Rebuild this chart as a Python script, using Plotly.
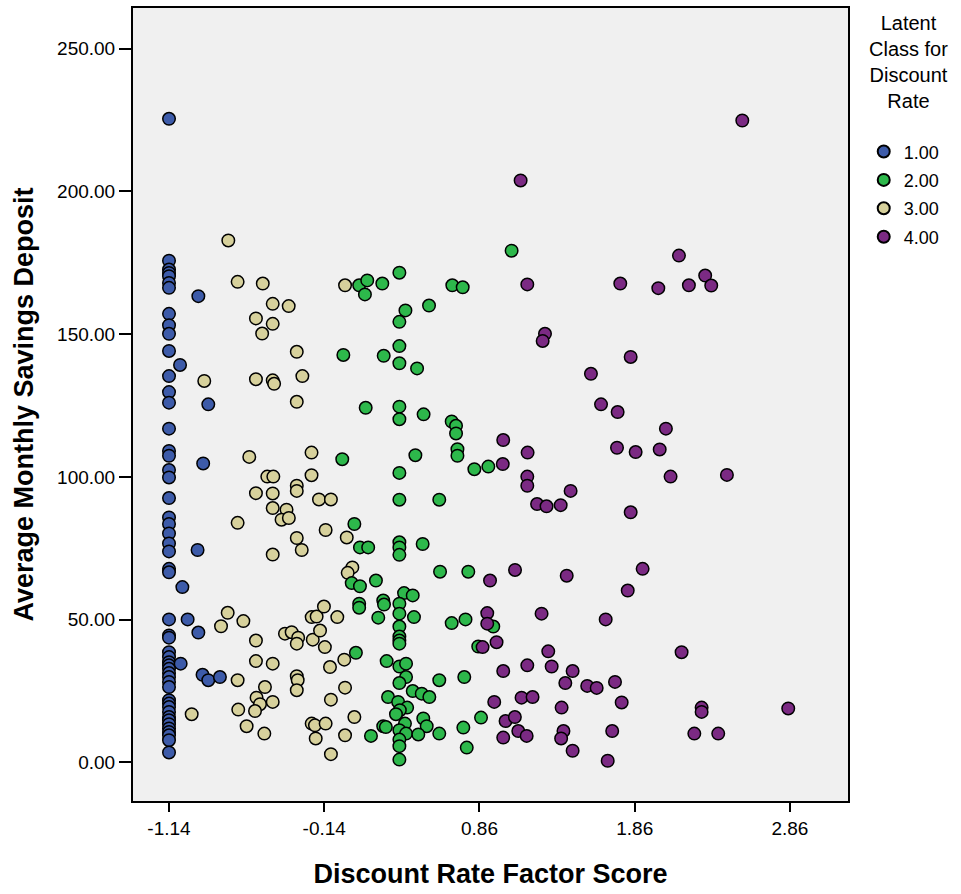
import plotly.graph_objects as go

# ---------------- data ----------------
class1_x = [-1.14] * 51 + [-0.951, -1.069, -0.887, -0.920, -0.956, -1.054, -1.020, -0.951, -1.065, -0.924, -0.887, -0.812]
class1_y = [225.4, 175.7, 172.6, 171.4, 170.3, 167.9, 166.2, 157.1, 153.1, 150.1, 144.1, 135.3, 129.7, 126.0,
            116.9, 109.1, 107.4, 102.4, 99.8, 92.6, 85.8, 83.5, 80.2, 76.7, 73.9, 67.8, 66.6, 50.1, 44.5, 43.7,
            38.6, 36.9, 35.1, 34.0, 32.8, 31.3, 29.9, 28.2, 26.4, 21.8, 20.6, 19.4, 17.7, 15.9, 14.8, 13.4, 11.9,
            10.7, 9.5, 7.8, 3.5,
            163.3, 139.2, 125.4, 104.7, 74.4, 61.4, 50.1, 45.5, 34.6, 30.7, 28.8, 29.9]

class2_x = [1.067, 0.344, 0.085, 0.137, 0.122, 0.234, 0.685, 0.752, 0.383, 0.344, 0.535, -0.017, 0.243, 0.344,
            0.344, 0.458, 0.127, 0.344, 0.344, 0.500, 0.681, 0.709, 0.709, 0.718, 0.718, 0.827, 0.917, -0.024,
            0.447, 0.344, 0.344, 0.601, 0.054, 0.090, 0.143, 0.037, 0.090, 0.193, 0.085, 0.085, 0.208, 0.064,
            0.161, 0.344, 0.344, 0.344, 0.494, 0.606, 0.788, 0.240, 0.245, 0.374, 0.430, 0.344, 0.344, 0.438,
            0.344, 0.344, 0.344, 0.344, 0.681, 0.770, 0.949, 0.852, 0.262, 0.344, 0.387, 0.387, 0.344, 0.601,
            0.762, 0.430, 0.488, 0.537, 0.271, 0.336, 0.394, 0.347, 0.322, 0.870, 0.240, 0.257, 0.380, 0.498,
            0.520, 0.344, 0.387, 0.344, 0.344, 0.466, 0.601, 0.756, 0.778, 0.344]
class2_y = [179.2, 171.5, 167.1, 168.8, 163.9, 167.7, 167.1, 166.4, 158.3, 154.3, 160.0, 142.7, 142.4, 145.8,
            139.8, 138.0, 124.2, 124.6, 120.2, 121.9, 119.4, 117.9, 115.2, 109.7, 107.4, 102.7, 103.6, 106.2,
            107.6, 101.4, 92.0, 92.0, 83.5, 75.3, 75.3, 62.8, 61.7, 63.7, 55.6, 54.2, 50.7, 38.4,
            9.3, 77.1, 75.3, 72.7, 76.5, 66.8, 66.8, 56.7, 55.3, 59.3, 58.5, 55.6, 52.1, 50.9,
            47.6, 44.1, 42.7, 41.6, 48.8, 50.1, 47.6, 40.6, 35.5, 33.6, 34.6, 29.9, 27.8, 28.8,
            29.9, 25.0, 24.1, 22.9, 22.9, 21.2, 19.2, 18.3, 16.9, 15.7, 12.7, 12.4, 13.6, 15.4,
            12.7, 11.3, 10.1, 8.0, 5.7, 9.8, 10.1, 12.2, 5.2, 1.0]

class3_x = [-0.758, -0.698, -0.536, -0.472, -0.369, -0.580, -0.472, -0.540, -0.317, -0.281, -0.913, -0.580,
            -0.472, -0.463, -0.317, -0.006, -0.222, -0.623, -0.222, -0.507, -0.468, -0.317, -0.317, -0.580,
            -0.472, -0.174, -0.097, -0.472, -0.383, -0.415, -0.368, -0.698, -0.131, -0.317, -0.285, -0.472,
            0.005, 0.041, 0.011, -0.762, -0.805, -0.661, -0.580, -0.580, -0.472, -0.698, -0.522, -0.576,
            -0.554, -0.586, -0.472, -0.694, -0.640, -0.526, -0.994, -0.393, -0.350, -0.308, -0.317, -0.214,
            -0.167, -0.221, -0.189, -0.142, -0.056, -0.136, -0.317, -0.311, -0.317, -0.103, -0.011, -0.006,
            -0.097, 0.054, -0.221, -0.200, -0.131, -0.195, -0.006, -0.097]
class3_y = [182.8, 168.3, 167.7, 160.6, 159.8, 155.5, 153.6, 150.2, 143.8, 135.3, 133.6, 134.2,
            133.8, 132.6, 126.3, 167.1, 108.5, 107.0, 100.6, 100.1, 100.1, 96.9, 95.1, 94.3,
            94.2, 92.1, 92.1, 89.1, 88.5, 85.0, 85.6, 83.9, 81.4, 78.6, 74.4, 72.8,
            78.8, 68.3, 66.4, 52.4, 47.7, 49.5, 42.7, 35.5, 34.6, 28.8, 26.4, 22.7,
            20.4, 18.0, 21.2, 18.5, 12.7, 10.1, 16.9, 45.1, 45.6, 43.7, 41.6, 43.0,
            46.2, 50.9, 51.1, 54.6, 50.9, 40.4, 30.2, 28.8, 25.3, 33.4, 36.0, 26.2,
            22.0, 15.9, 13.6, 13.0, 13.6, 8.4, 9.5, 2.9]

class4_x = [1.125, 1.168, 1.282, 1.267, 1.013, 1.170, 1.010, 1.168, 1.168, 1.447, 1.231, 1.292, 1.383,
            1.089, 0.928, 1.422, 0.910, 0.910, 1.260, 0.970, 0.880, 1.303, 1.168, 1.325, 1.013, 1.460,
            1.413, 0.955, 1.131, 1.202, 1.389, 1.028, 1.088, 1.110, 1.164, 1.013, 1.401, 1.386, 1.460,
            2.553, 2.145, 1.767, 2.012, 2.209, 2.314, 2.353, 1.834, 1.578, 1.643, 1.750, 2.061, 1.746,
            1.866, 2.021, 2.091, 2.454, 1.834, 1.911, 1.815, 1.673, 2.162, 1.554, 1.615, 1.733, 1.776,
            2.291, 2.291, 2.849, 1.715, 2.244, 2.398, 1.686]
class4_y = [203.8, 167.4, 150.1, 147.6, 112.9, 108.5, 104.5, 100.1, 96.9, 95.1, 90.5, 89.7, 90.1,
            67.4, 63.7, 65.4, 52.3, 48.6, 52.1, 42.1, 40.4, 38.9, 34.0, 33.6, 32.0, 32.0,
            27.8, 21.2, 22.7, 22.9, 19.2, 14.5, 15.9, 11.0, 9.3, 8.7, 11.0, 8.4, 4.1,
            224.8, 177.5, 167.7, 166.1, 167.1, 170.5, 167.0, 142.0, 136.1, 125.4, 122.7, 116.9, 110.2,
            108.7, 109.6, 100.1, 100.7, 87.6, 67.8, 60.2, 50.1, 38.6, 26.8, 26.1, 28.2, 21.0,
            19.2, 17.7, 18.9, 11.0, 10.1, 10.1, 0.6]

class_names = ["1.00", "2.00", "3.00", "4.00"]
class_colors = ["#3D5BA9", "#2DB84B", "#D7D19C", "#7B2A83"]
x_ticks = [-1.14, -0.14, 0.86, 1.86, 2.86]
y_ticks = [0, 50, 100, 150, 200, 250]

series = {
    0: (class1_x, class1_y),
    1: (class2_x, class2_y),
    2: (class3_x, class3_y),
    3: (class4_x, class4_y),
}

fig = go.Figure()
# draw order: 1, 3, 2, 4 (green above tan, purple on top); legend order by rank
for i in [0, 2, 1, 3]:
    xs, ys = series[i]
    fig.add_trace(go.Scatter(
        x=xs, y=ys, mode="markers", name=class_names[i],
        legendgroup=class_names[i], legendrank=i + 1,
        marker=dict(size=12.5, color=class_colors[i], line=dict(color="black", width=1.5)),
        showlegend=True,
    ))

font_family = "Liberation Sans, Arial, sans-serif"

fig.update_layout(
    width=961, height=894,
    margin=dict(l=133, r=113, t=6, b=93),
    paper_bgcolor="white",
    plot_bgcolor="#F0F0F0",
    font=dict(family=font_family, color="black"),
    showlegend=True,
    legend=dict(
        x=1.022, xanchor="left", y=0.842, yanchor="top",
        font=dict(size=18, family=font_family, color="black"),
        tracegroupgap=2, traceorder="grouped",
        bgcolor="rgba(0,0,0,0)", itemsizing="constant",
    ),
    xaxis=dict(
        range=[-1.372, 3.234], tickmode="array", tickvals=x_ticks,
        ticktext=[f"{v:.2f}" for v in x_ticks],
        showgrid=False, zeroline=False, showline=True, mirror=True,
        linecolor="black", linewidth=2, ticks="outside", ticklen=9, tickwidth=1.5,
        tickcolor="black", tickfont=dict(size=19, family=font_family),
        title=dict(text="<b>Discount Rate Factor Score</b>", font=dict(size=27, family=font_family), standoff=26),
    ),
    yaxis=dict(
        range=[-13.5, 264.2], tickmode="array", tickvals=y_ticks,
        ticktext=[f"{v:.2f}" for v in y_ticks],
        showgrid=False, zeroline=False, showline=True, mirror=True,
        linecolor="black", linewidth=2, ticks="outside", ticklen=12, tickwidth=1.5,
        tickcolor="black", tickfont=dict(size=19, family=font_family),
        title=dict(text="<b>Average Monthly Savings Deposit</b>", font=dict(size=27, family=font_family), standoff=16),
    ),
)

fig.add_annotation(
    text="Latent<br>Class for<br>Discount<br>Rate", xref="paper", yref="paper",
    x=(908 - 133) / 715, y=1 - (8 - 6) / 795, xanchor="center", yanchor="top",
    align="center", showarrow=False, font=dict(size=20, family=font_family, color="black"),
)

fig.write_html("out.html")
